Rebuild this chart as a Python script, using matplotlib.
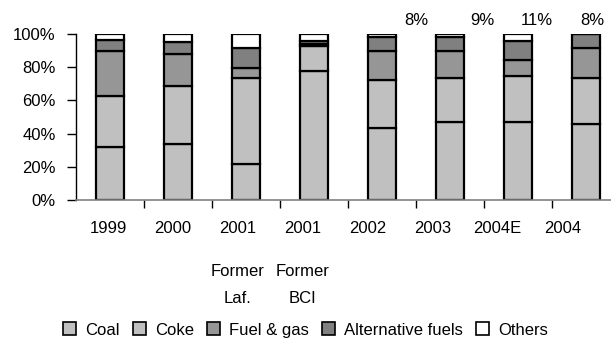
import matplotlib
matplotlib.use('Agg')
from matplotlib import pyplot as plt
from matplotlib.patches import Patch
import numpy as np

plt.rcParams['font.family'] = ['Liberation Sans', 'DejaVu Sans']

categorias = ['1999', '2000', '2001', '2001', '2002', '2003', '2004E', '2004']
sub_rotulos = ['', '', 'Former\nLaf.', 'Former\nBCI', '', '', '', '']
coal = [32, 33.5, 21.5, 78, 43.5, 47, 47, 46]
coke = [30.5, 35, 52, 14.5, 29, 26.5, 27.5, 27.5]
fuel_gas = [27, 19.5, 6, 1.5, 17, 16, 10, 18]
alternativos = [7, 7, 12, 1.5, 8.5, 8.5, 11, 8.5]
outros = [3.5, 5, 8.5, 4.5, 2, 2, 4.5, 0]
rotulos_alt = ['', '', '', '', '8%', '9%', '11%', '8%']
desloc_rotulo = [0, 0, 0, 0, 0.51, 0.47, 0.28, 0.10]

series = [coal, coke, fuel_gas, alternativos, outros]
nomes = ['Coal', 'Coke', 'Fuel & gas', 'Alternative fuels', 'Others']
cores = ['#c0c0c0', '#c0c0c0', '#969696', '#808080', '#ffffff']

fig = plt.figure(figsize=(6.11, 3.47), dpi=100)
ax = fig.add_axes([76/611, 147/347, 535/611, 166/347])

x = np.arange(len(categorias))
base = np.zeros(len(categorias))
for valores, nome, cor in zip(series, nomes, cores):
    v = np.array(valores) / 100
    ax.bar(x, v, bottom=base, width=0.41, color=cor, edgecolor='black', linewidth=1.6, label=nome)
    base += v

# rotulos das alternativas acima das barras
for i, r in enumerate(rotulos_alt):
    if r:
        ax.text(x[i] + desloc_rotulo[i], 1.084, r, ha='center', va='center', fontsize=12)

ax.set_ylim(0, 1)
ax.set_xlim(-0.5, -0.5 + 535/68)
ax.set_yticks(np.arange(0, 1.01, 0.2))
ax.set_yticklabels(['%d%%' % (v*100) for v in np.arange(0, 1.01, 0.2)], fontsize=12)
ax.tick_params(axis='y', direction='out', length=6.5, width=1, pad=8)

# ticks entre categorias, rotulos em posicoes proprias
pos_rotulos = x * 0.955 - 0.03
ax.set_xticks(x[:-1] + 0.5)
ax.tick_params(axis='x', which='major', direction='out', length=6, width=1, labelbottom=False)
ax.set_xticks(pos_rotulos, minor=True)
ax.set_xticklabels(categorias, minor=True, fontsize=12)
ax.tick_params(axis='x', which='minor', length=0, pad=15)

trans = matplotlib.transforms.blended_transform_factory(ax.transData, ax.transAxes)
for p, s in zip(pos_rotulos, sub_rotulos):
    if s:
        ax.text(p, -0.512, s, transform=trans, ha='center', va='center', fontsize=12, linespacing=2.0)

for s in ['top', 'right']:
    ax.spines[s].set_visible(False)
ax.spines['left'].set_linewidth(1)
ax.spines['bottom'].set_color('#808080')
ax.spines['bottom'].set_linewidth(1.2)

handles = [Patch(facecolor=c, edgecolor='black', linewidth=1.2, label=n) for n, c in zip(nomes, cores)]
fig.legend(handles=handles, loc='center', bbox_to_anchor=(0.5, 1 - 330/347), ncol=5, frameon=False,
           fontsize=12, handlelength=0.78, handleheight=0.78, handletextpad=0.55, columnspacing=0.78)

fig.savefig('out.png', dpi=100)
